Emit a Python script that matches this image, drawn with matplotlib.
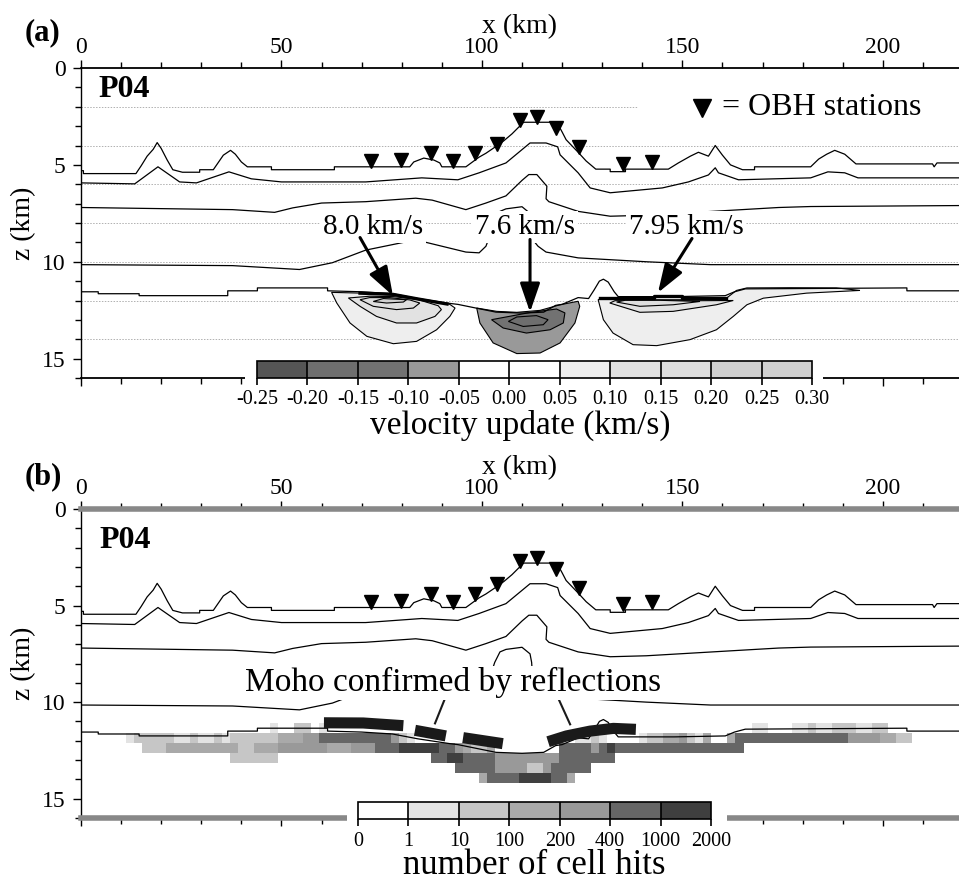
import numpy as np
import matplotlib
matplotlib.use('Agg')
import matplotlib.pyplot as plt
from matplotlib.colors import ListedColormap, BoundaryNorm
from matplotlib.cm import ScalarMappable
from matplotlib.patches import Rectangle
from matplotlib.ticker import MultipleLocator

plt.rcParams['font.family'] = ['Liberation Serif', 'DejaVu Serif']

# ---- model boundaries, x (km) / z (km) ----
seafloor_x = [0, 0.6, 0.6, 13.7, 15.0, 16.5, 18.0, 19.0, 20.0, 21.5, 22.9, 25.3, 29.6, 29.6, 33.0,
              34.0, 35.5, 37.3, 38.5, 40.0, 41.5, 47.5, 47.5, 63.2, 63.2, 82.0, 83.0, 85.5, 88.0,
              89.5, 90.0, 96.0, 99.3, 101.0, 103.5, 105.5, 107.5, 110.4, 118.7, 120.0, 121.0, 124.0,
              126.0, 128.4, 132.0, 132.0, 135.8, 135.8, 146.5, 149.0, 152.0, 154.0, 156.5, 158.2,
              160.0, 162.0, 165.0, 168.0, 168.0, 182.0, 184.0, 186.0, 188.0, 190.5, 193.3, 212.4,
              212.8, 213.5, 219]
seafloor_z = [5.3, 5.3, 5.45, 5.45, 5.05, 4.55, 4.2, 3.85, 4.15, 4.75, 5.25, 5.38, 5.38, 5.25, 5.25,
              4.95, 4.5, 4.25, 4.45, 4.85, 5.1, 5.1, 5.25, 5.25, 5.1, 5.1, 4.85, 4.65, 4.75,
              4.9, 5.1, 5.1, 4.6, 4.4, 4.05, 3.75, 3.4, 2.8, 2.8, 3.3, 3.7, 4.35,
              4.8, 5.22, 5.22, 5.35, 5.35, 5.22, 5.22, 4.9, 4.55, 4.35, 4.55, 4.0,
              4.5, 5.0, 5.25, 5.25, 5.1, 5.1, 4.7, 4.45, 4.25, 4.45, 4.95, 4.95,
              5.1, 4.9, 4.9]

basement_x = [0, 13.4, 19.2, 24.6, 28.8, 36.9, 42.5, 50, 71, 85, 94, 99.3, 106, 112, 116, 118.9,
              119.5, 124, 127, 132, 145, 151.5, 156.5, 158.2, 159, 164, 182, 186.3, 190.5, 193.8, 219]
basement_z = [5.93, 5.98, 5.1, 5.88, 5.93, 5.36, 5.72, 5.88, 5.88, 5.67, 5.77, 5.41, 4.9, 3.87, 3.87,
              4.07, 4.48, 5.41, 6.19, 6.44, 6.19, 5.88, 5.52, 5.15, 5.41, 5.77, 5.67, 5.36, 5.41,
              5.67, 5.67]

layer3_x = [0, 37.8, 48.3, 52.8, 60, 71, 83.5, 87.6, 96, 101, 106, 110, 111.7, 113.7, 116.2, 116.0,
            116.7, 124, 132, 141, 165.7, 174, 182, 219]
layer3_z = [7.2, 7.31, 7.45, 7.22, 6.97, 6.9, 6.72, 6.82, 7.31, 6.97, 6.6, 5.8, 5.5, 5.5, 6.1, 6.75,
            6.9, 7.4, 7.65, 7.6, 7.3, 7.2, 7.15, 7.1]

layer4_x = [0, 37.8, 54.5, 62.7, 71, 83.5, 96, 99.3, 101, 102.3, 103.2, 104.5, 106, 110, 112, 112.4,
            112.7, 114, 116, 124, 141, 157, 219]
layer4_z = [10.15, 10.2, 10.4, 10.05, 9.4, 8.87, 9.5, 9.54, 9.2, 8.5, 7.94, 7.4, 7.27, 7.16, 7.5,
            7.94, 8.87, 9.2, 9.5, 9.8, 10.0, 10.15, 10.15]

moho_x = [0, 4.3, 4.3, 14.5, 14.5, 36.6, 36.6, 44, 44, 61.5, 61.5, 70, 77.7, 84, 92, 94, 103.5, 110,
          115.4, 118.4, 120, 124, 126.6, 128, 129.3, 130.3, 131.5, 133, 134, 148, 160.7, 163, 165.7,
          206, 206, 219]
moho_z = [11.55, 11.55, 11.65, 11.65, 11.75, 11.75, 11.5, 11.5, 11.35, 11.35, 11.5, 11.55, 11.65,
          11.9, 12.15, 12.2, 12.6, 12.65, 12.6, 12.25, 12.2, 11.85, 11.9, 11.45, 11.0, 10.9, 11.05,
          11.55, 11.8, 11.8, 11.75, 11.55, 11.4, 11.35, 11.5, 11.5]

moho_bold_left_x = [69.6, 77.7, 84, 91.3]
moho_bold_left_z = [11.62, 11.68, 11.92, 12.18]
moho_bold_right_x = [129.4, 143, 143, 150, 150, 161]
moho_bold_right_z = [11.86, 11.86, 11.75, 11.75, 11.86, 11.86]

# OBH stations
station_x = [72.4, 79.9, 87.3, 92.8, 98.3, 103.7, 109.5, 113.7, 118.4, 124.1, 135.1, 142.5]
station_z = [4.8, 4.75, 4.4, 4.8, 4.4, 3.9, 2.68, 2.55, 3.1, 4.07, 4.93, 4.83]

# ---- panel (a): velocity update ----
vel_levels = [-0.25, -0.20, -0.15, -0.10, -0.05, 0.00, 0.05, 0.10, 0.15, 0.20, 0.25, 0.30]
vel_ticklabels = ['-0.25', '-0.20', '-0.15', '-0.10', '-0.05', '0.00', '0.05', '0.10', '0.15',
                  '0.20', '0.25', '0.30']
vel_colors = ['#555555', '#6e6e6e', '#727272', '#999999', '#ffffff', '#ffffff', '#eeeeee',
              '#e2e2e2', '#dedede', '#d0d0d0', '#d0d0d0']

left_out_x = [62.5, 63.8, 67.1, 71.3, 77.9, 83.7, 88.7, 92.0, 93.3, 92.0, 84.0, 77.7, 70.0]
left_out_z = [11.58, 12.13, 13.16, 13.85, 14.23, 14.11, 13.51, 12.82, 12.39, 12.2, 11.9, 11.72, 11.62]
left_in1_x = [66.7, 69.6, 73.7, 78.7, 83.7, 88.3, 89.9, 89.1, 84.0, 78.0, 72.0]
left_in1_z = [11.87, 12.3, 12.82, 13.16, 13.16, 12.82, 12.47, 12.27, 11.95, 11.8, 11.78]
left_in2_x = [69.6, 72.9, 78.7, 82.9, 84.5, 82.0, 77.0, 72.0]
left_in2_z = [11.96, 12.3, 12.47, 12.39, 12.13, 11.97, 11.85, 11.85]
left_in3_x = [72.9, 76.2, 80.4, 81.2, 75.4]
left_in3_z = [12.05, 12.13, 12.08, 11.96, 11.9]

mid_out_x = [98.7, 99.5, 102.8, 108.7, 114.5, 119.5, 123.2, 124.4, 124.0, 119.5, 114.5, 108.7, 103.7]
mid_out_z = [12.39, 13.16, 14.19, 14.74, 14.71, 14.19, 13.16, 12.3, 12.04, 12.22, 12.51, 12.61, 12.56]
mid_in1_x = [102.4, 105.3, 111.1, 117.0, 120.3, 120.7, 118.6, 112.0]
mid_in1_z = [12.99, 13.42, 13.68, 13.51, 13.16, 12.64, 12.44, 12.62]
mid_in2_x = [106.6, 110.3, 115.3, 116.5, 113.6, 108.7]
mid_in2_z = [13.08, 13.34, 13.25, 12.99, 12.78, 12.85]

right_out_x = [129.0, 130.3, 132.7, 137.7, 143.6, 151.9, 158.5, 162.7, 166.1, 170.2, 181.0, 194.3,
               188.4, 176.8, 166.1, 163.5, 161.0, 149.4, 139.4, 129.4]
right_out_z = [11.96, 12.99, 13.68, 14.28, 14.33, 14.02, 13.51, 12.82, 12.22, 11.88, 11.62, 11.48,
               11.35, 11.34, 11.35, 11.48, 11.88, 11.96, 11.96, 11.92]
right_in1_x = [131.9, 139.4, 147.7, 158.5, 162.7, 154.4, 141.9, 133.2]
right_in1_z = [12.13, 12.61, 12.56, 12.22, 12.0, 12.01, 12.01, 12.01]
right_in2_x = [133.6, 139.4, 147.7, 154.4, 144.4, 135.7]
right_in2_z = [12.08, 12.3, 12.22, 12.05, 11.99, 11.99]

blobs = [(0.07, left_out_x, left_out_z), (0.12, left_in1_x, left_in1_z),
         (0.17, left_in2_x, left_in2_z), (0.22, left_in3_x, left_in3_z),
         (-0.07, mid_out_x, mid_out_z), (-0.12, mid_in1_x, mid_in1_z),
         (-0.17, mid_in2_x, mid_in2_z),
         (0.07, right_out_x, right_out_z), (0.12, right_in1_x, right_in1_z),
         (0.17, right_in2_x, right_in2_z)]

vel_labels = ['8.0 km/s', '7.6 km/s', '7.95 km/s']
vel_label_x = [72.8, 110.7, 150.9]
vel_label_z = [8.2, 8.2, 8.2]
arrow_tail = [(69.6, 8.75), (112.0, 8.85), (152.4, 8.8)]
arrow_tip = [(77.8, 11.75), (112.0, 12.6), (143.9, 11.6)]

# ---- panel (b): cell hits (2 km x 0.52 km cells, digit = colour class) ----
hit_bounds = [0, 1, 10, 100, 200, 400, 1000, 2000]
hit_ticklabels = ['0', '1', '10', '100', '200', '400', '1000', '2000']
hit_colors = ['#ffffff', '#e3e3e3', '#c6c6c6', '#a9a9a9', '#999999', '#666666', '#3f3f3f']
hit_class_value = [0, 5, 50, 150, 300, 700, 1500]
cell_x0 = 11.25
cell_z_edges = [11.08, 11.6, 12.12, 12.64, 13.16, 13.68, 14.2]
hit_rows = [
    '0000000000' '0000000010' '0220100000' '0000000000' '0000000000'
    '0000000000' '0000000000' '0000000011' '0001121122' '21122000',
    '1222221121' '1212222223' '3344555555' '5554210000' '0000000000'
    '0000001121' '0000122334' '2130035555' '5555555555' '44443322',
    '0022233333' '3333223334' '4444433344' '4555666665' '5432230000'
    '0000555545' '6555555555' '5555555000' '0000000000' '00000000',
    '0000000000' '0002222220' '0000000000' '0000000055' '6655554444'
    '4444555555' '5000000000' '0000000000' '0000000000' '00000000',
    '0000000000' '0000000000' '0000000000' '0000000000' '0555554444'
    '2245555500' '0000000000' '0000000000' '0000000000' '00000000',
    '0000000000' '0000000000' '0000000000' '0000000000' '0000355556'
    '6665530000' '0000000000' '0000000000' '0000000000' '00000000',
]

reflect_segments = [
    ([60.6, 70.4, 80.4], [11.07, 11.08, 11.22]),
    ([83.3, 91.0], [11.46, 11.75]),
    ([95.3, 105.2], [11.84, 12.15]),
    ([116.5, 121.1, 127.0, 132.8, 138.4], [12.05, 11.75, 11.5, 11.36, 11.41]),
]
reflect_leaders = [([91.2, 88.3], [9.6, 11.1]), ([118.6, 122.0], [9.6, 11.15])]

W, H = 959, 882
fig = plt.figure(figsize=(W / 100, H / 100), dpi=100)


def px_axes(l, t, r, b):
    return fig.add_axes([l / W, 1 - b / H, (r - l) / W, (b - t) / H])


def frame(ax, edge_color, edge_width):
    ax.set_xlim(0, 219)
    ax.set_ylim(16, 0)
    ax.xaxis.set_major_locator(MultipleLocator(50))
    ax.xaxis.set_minor_locator(MultipleLocator(10))
    ax.yaxis.set_major_locator(MultipleLocator(5))
    ax.yaxis.set_minor_locator(MultipleLocator(1))
    ax.tick_params(axis='x', which='both', top=True, bottom=True, labeltop=True,
                   labelbottom=False, direction='out')
    ax.tick_params(axis='y', which='both', left=True, right=False, direction='out')
    ax.tick_params(which='major', length=6, width=1, labelsize=17)
    ax.tick_params(which='minor', length=4, width=1)
    ax.tick_params(axis='x', pad=1)
    ax.tick_params(axis='y', pad=5)
    ax.spines['right'].set_visible(False)
    for s in ('top', 'bottom'):
        ax.spines[s].set_color(edge_color)
        ax.spines[s].set_linewidth(edge_width)
    ax.spines['left'].set_linewidth(1)
    ax.xaxis.set_label_position('top')
    ax.set_xlabel('x (km)', fontsize=20, labelpad=3)
    ax.set_ylabel('z (km)', fontsize=20, labelpad=4)


def model_lines(ax):
    for xs, zs in [(seafloor_x, seafloor_z), (basement_x, basement_z),
                   (layer3_x, layer3_z), (layer4_x, layer4_z), (moho_x, moho_z)]:
        ax.plot(xs, zs, color='black', lw=0.9, zorder=3)
    ax.plot(station_x, station_z, 'v', ms=10, color='black', zorder=6)


# ---------------- panel (a) ----------------
ax_a = px_axes(81, 68, 959, 378)
frame(ax_a, 'black', 1.3)
for z in range(2, 16, 2):
    ax_a.axhline(z, color='#b0b0b0', lw=0.7, ls=(0, (1.5, 1.5)), zorder=0.5)

cmap_a = ListedColormap(vel_colors)
norm_a = BoundaryNorm(vel_levels, cmap_a.N)
for level, xs, zs in blobs:
    ax_a.fill(xs, zs, facecolor=cmap_a(norm_a(level)), edgecolor='black', lw=0.8, zorder=2)

model_lines(ax_a)
ax_a.plot(moho_bold_left_x, moho_bold_left_z, color='black', lw=2.4, zorder=3.5)
ax_a.plot(moho_bold_right_x, moho_bold_right_z, color='black', lw=2.4, zorder=3.5)

for s, x, z in zip(vel_labels, vel_label_x, vel_label_z):
    ax_a.text(x, z, s, fontsize=21, ha='center', va='center', zorder=5,
              bbox=dict(boxstyle='square,pad=0.1', fc='white', ec='none'))
for tail, tip in zip(arrow_tail, arrow_tip):
    ax_a.annotate('', xy=tip, xytext=tail, zorder=6,
                  arrowprops=dict(arrowstyle='-|>,head_length=1.1,head_width=0.38',
                                  mutation_scale=16, lw=2.2, color='black',
                                  shrinkA=0, shrinkB=0))

ax_a.text(4.3, 1.13, 'P04', fontsize=23, fontweight='bold', ha='left', va='center')
# white gap in the dotted line behind the legend, as in the original
ax_a.add_patch(Rectangle((139, 1.5), 80, 1.1, fc='white', ec='none', zorder=0.8))
ax_a.plot([154.8], [2.04], 'v', ms=13, color='black', zorder=6)
ax_a.text(159.9, 2.04, '= OBH stations', fontsize=23, ha='left', va='center', zorder=5)

fig.add_artist(Rectangle((245 / W, 1 - 392 / H), (823 - 245) / W, (392 - 356) / H,
                         transform=fig.transFigure, fc='white', ec='none', zorder=1))
cax_a = px_axes(257, 361, 812, 378)
cax_a.set_zorder(2)
cb_a = fig.colorbar(ScalarMappable(norm=norm_a, cmap=cmap_a), cax=cax_a,
                    orientation='horizontal', drawedges=True, ticks=vel_levels)
cb_a.ax.set_xticklabels(vel_ticklabels)
cb_a.ax.tick_params(length=5, width=1.2, labelsize=14.5, pad=4)
cb_a.outline.set_linewidth(1.2)
cb_a.dividers.set_linewidth(1.2)
cb_a.set_label('velocity update (km/s)', fontsize=24)
cb_a.ax.xaxis.set_label_coords(0.474, -2.8)
cb_a.ax.xaxis.label.set_va('center')

# ---------------- panel (b) ----------------
ax_b = px_axes(81, 509, 959, 818)
frame(ax_b, '#888888', 4)

codes = np.array([[int(c) for c in row] for row in hit_rows])
hits = np.ma.masked_equal(np.array(hit_class_value)[codes], 0)
cell_x = cell_x0 + 2.0 * np.arange(codes.shape[1] + 1)
cmap_b = ListedColormap(hit_colors)
norm_b = BoundaryNorm(hit_bounds, cmap_b.N)
ax_b.pcolormesh(cell_x, cell_z_edges, hits, cmap=cmap_b, norm=norm_b, zorder=1)

model_lines(ax_b)
for xs, zs in reflect_segments:
    ax_b.plot(xs, zs, color='#1a1a1a', lw=8, solid_capstyle='butt', zorder=4)
for xs, zs in reflect_leaders:
    ax_b.plot(xs, zs, color='#1a1a1a', lw=1.5, zorder=4)
ax_b.text(92.8, 9.0, 'Moho confirmed by reflections', fontsize=24, ha='center', va='center',
          zorder=5, bbox=dict(boxstyle='square,pad=0.05', fc='white', ec='none'))
ax_b.text(4.6, 1.65, 'P04', fontsize=23, fontweight='bold', ha='left', va='center')

fig.add_artist(Rectangle((347 / W, 1 - 832 / H), (727 - 347) / W, (832 - 812) / H,
                         transform=fig.transFigure, fc='white', ec='none', zorder=1))
cax_b = px_axes(358, 802, 711, 819)
cax_b.set_zorder(2)
cb_b = fig.colorbar(ScalarMappable(norm=norm_b, cmap=cmap_b), cax=cax_b,
                    orientation='horizontal', drawedges=True, ticks=hit_bounds)
cb_b.ax.set_xticklabels(hit_ticklabels)
cb_b.ax.tick_params(length=5, width=1.2, labelsize=14.5, pad=4)
cb_b.outline.set_linewidth(1.2)
cb_b.dividers.set_linewidth(1.2)
cb_b.set_label('number of cell hits', fontsize=25)
cb_b.ax.xaxis.set_label_coords(0.5, -2.75)
cb_b.ax.xaxis.label.set_va('center')

fig.text(42 / W, 1 - 33 / H, '(a)', fontsize=22, fontweight='bold', ha='center', va='center')
fig.text(43 / W, 1 - 477 / H, '(b)', fontsize=22, fontweight='bold', ha='center', va='center')

fig.savefig('out.png', dpi=100, facecolor='white')
